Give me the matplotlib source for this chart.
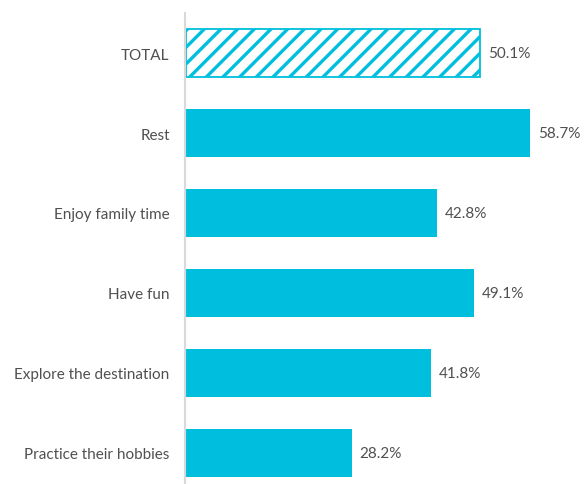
import matplotlib
matplotlib.use("Agg")
import matplotlib.pyplot as plt

categories = ["TOTAL", "Rest", "Enjoy family time", "Have fun",
              "Explore the destination", "Practice their hobbies"]
values = [50.1, 58.7, 42.8, 49.1, 41.8, 28.2]

bar_color = "#00BFDE"
text_color = "#505050"

plt.rcParams["font.family"] = ["Lato", "DejaVu Sans"]
plt.rcParams["hatch.linewidth"] = 2.4
plt.rcParams["hatch.color"] = bar_color

fig = plt.figure(figsize=(5.84, 4.85), dpi=100)
# axes box in figure fractions: left edge at the category axis line
ax = fig.add_axes([185 / 584, (485 - 494) / 485, 390 / 584, 480 / 485])

ypos = list(range(len(categories)))
for i, (cat, val) in enumerate(zip(categories, values)):
    if cat == "TOTAL":
        ax.barh(i, val, height=0.6, left=0.25, facecolor="white",
                edgecolor=bar_color, hatch="//", linewidth=1.3)
    else:
        ax.barh(i, val, height=0.6, left=0.25, color=bar_color, linewidth=0)
    ax.text(val + 0.25 + 1.3, i, f"{val:.1f}%", va="center", ha="left",
            fontsize=11, color=text_color)

ax.set_ylim(len(categories) - 0.5, -0.5)
ax.set_xlim(0, 390 / 5.86)
ax.set_yticks(ypos)
ax.set_yticklabels(categories, fontsize=11, color=text_color)
ax.tick_params(axis="y", length=0, pad=11)
ax.set_xticks([])
for side in ["top", "right", "bottom"]:
    ax.spines[side].set_visible(False)
ax.spines["left"].set_color("#D9D9D9")
ax.spines["left"].set_linewidth(1.5)

fig.savefig("out.png", dpi=100)
